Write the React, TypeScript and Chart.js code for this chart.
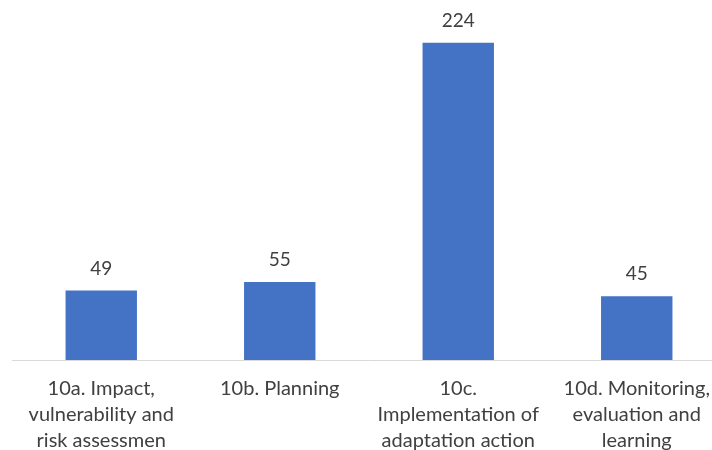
import React, { useEffect, useRef } from "react";
import { Chart, registerables } from "chart.js";

Chart.register(...registerables);

const categories: string[][] = [
  ["10a. Impact,", "vulnerability and", "risk assessmen"],
  ["10b. Planning"],
  ["10c.", "Implementation of", "adaptation action"],
  ["10d. Monitoring,", "evaluation and", "learning"],
];
const values: number[] = [49, 55, 224, 45];

const FONT = "Lato, 'Noto Sans', sans-serif";

const valueLabels = {
  id: "valueLabels",
  afterDatasetsDraw(chart: any) {
    const ctx = chart.ctx;
    const meta = chart.getDatasetMeta(0);
    ctx.save();
    ctx.font = `19px ${FONT}`;
    ctx.fillStyle = "#404040";
    ctx.textAlign = "center";
    ctx.textBaseline = "middle";
    meta.data.forEach((el: any, i: number) => {
      ctx.fillText(String(values[i]), el.x, el.y - 22);
    });
    ctx.restore();
  },
};

export default function App() {
  const ref = useRef<HTMLCanvasElement | null>(null);
  useEffect(() => {
    if (!ref.current) return;
    const chart = new Chart(ref.current, {
      type: "bar",
      data: {
        labels: categories,
        datasets: [
          {
            data: values,
            backgroundColor: "#4472C4",
            categoryPercentage: 1,
            barPercentage: 0.4,
          },
        ],
      },
      options: {
        animation: false,
        responsive: false,
        maintainAspectRatio: false,
        layout: { padding: { top: 6, left: 12, right: 4, bottom: 0 } },
        plugins: { legend: { display: false }, tooltip: { enabled: false } },
        scales: {
          x: {
            grid: { display: false },
            border: { display: true, color: "#D9D9D9", width: 1 },
            ticks: {
              autoSkip: false,
              maxRotation: 0,
              minRotation: 0,
              padding: 7,
              color: "#404040",
              font: { family: FONT, size: 20, lineHeight: 1.32 },
            },
            afterFit(scale: any) {
              scale.height = 90;
            },
          },
          y: {
            display: false,
            min: 0,
            max: 250,
          },
        },
      },
      plugins: [valueLabels],
    });
    return () => chart.destroy();
  }, []);
  return (
    <div style={{ position: "absolute", left: 0, top: 0, width: 712, height: 450, overflow: "hidden", background: "#fff" }}>
      <canvas ref={ref} width={730} height={450} style={{ width: 730, height: 450, display: "block" }} />
    </div>
  );
}
